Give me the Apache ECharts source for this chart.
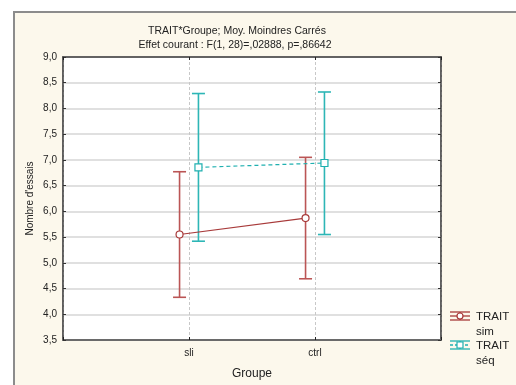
<!DOCTYPE html>
<html><head><meta charset="utf-8">
<script src="https://cdn.jsdelivr.net/npm/echarts@6/dist/echarts.min.js"></script>
<style>html,body{margin:0;padding:0;background:#fff}#c{width:516px;height:385px}</style>
</head><body><div id="c"></div>
<script>
const categories = ['sli', 'ctrl'];
const yTicks = ['3,5','4,0','4,5','5,0','5,5','6,0','6,5','7,0','7,5','8,0','8,5','9,0'];
const simMean = [5.55, 5.87];
const simLow  = [4.33, 4.69];
const simHigh = [6.77, 7.05];
const seqMean = [6.855, 6.94];
const seqLow  = [5.42, 5.55];
const seqHigh = [8.29, 8.32];
const seriesNames = ['TRAIT sim', 'TRAIT séq'];

const RED = '#a83a3a', RED_EB = '#bb5555';
const CYAN = '#1fb0b0', CYAN_EB = '#2db6b6';
const FONT = 'Liberation Sans, Arial, sans-serif';
const OFF = 0.075;

function pts(mean, shift) { return mean.map((v, i) => [i + 1 + shift, v]); }
function ebData(low, high, shift) { return low.map((v, i) => [i + 1 + shift, v, high[i]]); }
function ebSeries(name, low, high, shift, color) {
  return {
    type: 'custom', name: name + ' eb', z: 2, silent: true,
    data: ebData(low, high, shift),
    encode: { x: 0, y: [1, 2] },
    renderItem: function (params, api) {
      const lo = api.coord([api.value(0), api.value(1)]);
      const hi = api.coord([api.value(0), api.value(2)]);
      const hw = 6.5;
      const st = { stroke: color, lineWidth: 1.6 };
      return { type: 'group', children: [
        { type: 'line', shape: { x1: lo[0], y1: lo[1], x2: hi[0], y2: hi[1] }, style: st },
        { type: 'line', shape: { x1: lo[0] - hw, y1: lo[1], x2: lo[0] + hw, y2: lo[1] }, style: st },
        { type: 'line', shape: { x1: hi[0] - hw, y1: hi[1], x2: hi[0] + hw, y2: hi[1] }, style: st }
      ]};
    }
  };
}

function legendItem(y, color, dashed, symbol, l1, l2) {
  const st = { stroke: color, lineWidth: 1.3, lineDash: dashed ? [3, 2] : null };
  const cx = 460;
  const items = [
    { type: 'line', shape: { x1: 450, y1: y - 4, x2: 470, y2: y - 4 }, style: { stroke: color, lineWidth: 1.3 } },
    { type: 'line', shape: { x1: 450, y1: y + 4, x2: 470, y2: y + 4 }, style: { stroke: color, lineWidth: 1.3 } },
    { type: 'line', shape: { x1: 450, y1: y, x2: 470, y2: y }, style: st },
    { type: 'line', shape: { x1: cx, y1: y - 4, x2: cx, y2: y + 4 }, style: { stroke: color, lineWidth: 1.3 } }
  ];
  if (symbol === 'circle') items.push({ type: 'circle', shape: { cx: cx, cy: y, r: 3 }, style: { fill: '#fff', stroke: color, lineWidth: 1.2 } });
  else items.push({ type: 'rect', shape: { x: cx - 3, y: y - 3, width: 6, height: 6 }, style: { fill: '#fff', stroke: color, lineWidth: 1.2 } });
  items.push({ type: 'text', x: 476, y: y + 1, style: { text: l1, fill: '#222', font: '11.5px ' + FONT, verticalAlign: 'middle' } });
  items.push({ type: 'text', x: 476, y: y + 16, style: { text: l2, fill: '#222', font: '11.5px ' + FONT, verticalAlign: 'middle' } });
  return items;
}

const axisFmtX = v => (v >= 1 && v <= categories.length && v === Math.round(v)) ? categories[v - 1] : '';

const chart = echarts.init(document.getElementById('c'), null, { renderer: 'canvas' });
chart.setOption({
  animation: false,
  backgroundColor: '#ffffff',
  textStyle: { fontFamily: FONT },
  graphic: [
    { type: 'rect', z: -10, shape: { x: 14, y: 12, width: 540, height: 400 }, style: { fill: '#fcf8ec', stroke: '#8c8c8c', lineWidth: 2 } }
  ].concat(legendItem(316, RED, false, 'circle', 'TRAIT', 'sim'))
   .concat(legendItem(345, CYAN, true, 'rect', 'TRAIT', 'séq')),
  title: [
    { text: 'TRAIT*Groupe; Moy. Moindres Carrés', left: 232, top: 21, textAlign: 'center',
      textStyle: { fontSize: 10.5, fontWeight: 'normal', color: '#222', fontFamily: FONT } },
    { text: 'Effet courant : F(1, 28)=,02888, p=,86642', left: 230, top: 35, textAlign: 'center',
      textStyle: { fontSize: 10.5, fontWeight: 'normal', color: '#222', fontFamily: FONT } }
  ],
  grid: { left: 63, top: 57, right: 75, bottom: 40, show: true, backgroundColor: '#ffffff', borderColor: '#555', borderWidth: 1.5 },
  xAxis: [{
    type: 'value', min: 0, max: 3, interval: 1,
    name: 'Groupe', nameLocation: 'middle', nameGap: 28,
    nameTextStyle: { fontSize: 12, color: '#222', fontFamily: FONT },
    axisLine: { show: true, lineStyle: { color: '#6a6a6a', width: 2 } },
    axisTick: { show: true, inside: true, length: 3, lineStyle: { color: '#222' } },
    axisLabel: { fontSize: 10, color: '#222', margin: 8, formatter: axisFmtX },
    splitLine: { show: true, lineStyle: { color: '#c8c8c8', type: [3, 2], width: 1 } }
  }, {
    type: 'value', min: 0, max: 3, interval: 1, position: 'top',
    axisLine: { show: true, onZero: false, lineStyle: { color: '#444', width: 1.5 } },
    axisTick: { show: true, inside: true, length: 3, lineStyle: { color: '#222' } },
    axisLabel: { show: false }, splitLine: { show: false }
  }],
  yAxis: [{
    type: 'value', min: 3.5, max: 9, interval: 0.5,
    name: "Nombre d'essais", nameLocation: 'middle', nameGap: 28, nameRotate: 90, nameMoveOverlap: false,
    nameTextStyle: { fontSize: 10, color: '#222', fontFamily: FONT },
    axisLine: { show: true, lineStyle: { color: '#555', width: 1.5 } },
    axisTick: { show: true, inside: true, length: 3, lineStyle: { color: '#333' } },
    axisLabel: { fontSize: 10, color: '#222', margin: 6, formatter: v => yTicks[Math.round((v - 3.5) / 0.5)] },
    splitLine: { show: true, lineStyle: { color: '#d6d6d6', width: 1.5 } }
  }, {
    type: 'value', min: 3.5, max: 9, interval: 0.5, position: 'right',
    axisLine: { show: true, onZero: false, lineStyle: { color: '#555', width: 1.5 } },
    axisTick: { show: true, inside: true, length: 3, lineStyle: { color: '#333' } },
    axisLabel: { show: false }, splitLine: { show: false }
  }],
  series: [
    ebSeries(seriesNames[0], simLow, simHigh, -OFF, RED_EB),
    ebSeries(seriesNames[1], seqLow, seqHigh, OFF, CYAN_EB),
    { type: 'line', name: seriesNames[0], z: 3, data: pts(simMean, -OFF),
      lineStyle: { color: RED, width: 1.2 }, symbol: 'circle', symbolSize: 7,
      itemStyle: { color: '#fff', borderColor: RED, borderWidth: 1.2 } },
    { type: 'line', name: seriesNames[1], z: 3, data: pts(seqMean, OFF),
      lineStyle: { color: CYAN, width: 1.2, type: [4, 3] }, symbol: 'rect', symbolSize: 7,
      itemStyle: { color: '#fff', borderColor: CYAN, borderWidth: 1.2 } }
  ]
});
</script></body></html>
